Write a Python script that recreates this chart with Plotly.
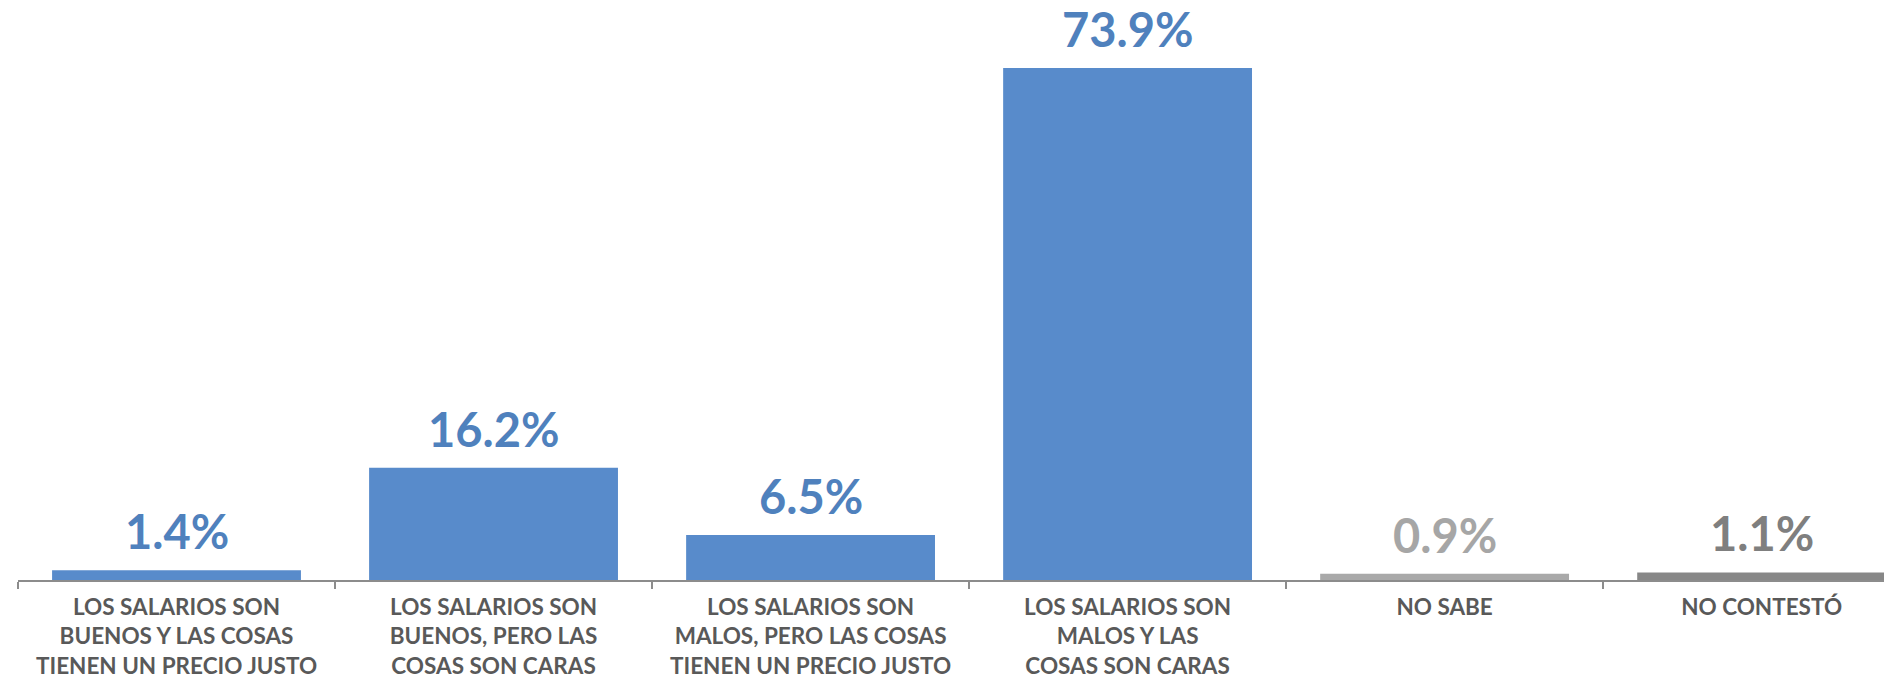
import plotly.graph_objects as go

categories = [
    "LOS SALARIOS SON<br>BUENOS Y LAS COSAS<br>TIENEN UN PRECIO JUSTO",
    "LOS SALARIOS SON<br>BUENOS, PERO LAS<br>COSAS SON CARAS",
    "LOS SALARIOS SON<br>MALOS, PERO LAS COSAS<br>TIENEN UN PRECIO JUSTO",
    "LOS SALARIOS SON<br>MALOS Y LAS<br>COSAS SON CARAS",
    "NO SABE",
    "NO CONTESTÓ",
]
values = [1.4, 16.2, 6.5, 73.9, 0.9, 1.1]
value_labels = ["1.4%", "16.2%", "6.5%", "73.9%", "0.9%", "1.1%"]
bar_colors = ["#588BCB", "#588BCB", "#588BCB", "#588BCB", "#A9A9A9", "#878787"]
label_colors = ["#4F81BD", "#4F81BD", "#4F81BD", "#4F81BD", "#A6A6A6", "#7F7F7F"]

fig = go.Figure()
fig.add_trace(go.Bar(
    x=list(range(len(categories))),
    y=values,
    marker=dict(color=bar_colors, line=dict(width=0)),
    width=0.785,
    hoverinfo="skip",
))

for i, (v, t, c) in enumerate(zip(values, value_labels, label_colors)):
    fig.add_annotation(
        x=i, y=v, text=f"<b>{t}</b>", showarrow=False,
        yanchor="bottom", yshift=10, borderpad=0,
        font=dict(family="Lato", size=47, color=c),
    )

fig.update_layout(
    width=1884, height=681,
    margin=dict(l=18, r=0, t=0, b=101),
    paper_bgcolor="white", plot_bgcolor="white",
    showlegend=False,
)
fig.update_xaxes(
    tickmode="array",
    tickvals=list(range(len(categories))),
    ticktext=[f"<b>{c}</b>" for c in categories],
    range=[-0.5, 5.386],
    showline=True, linecolor="#8C8C8C", linewidth=2,
    ticks="", showgrid=False, zeroline=False,
    ticklabelstandoff=6,
    tickfont=dict(family="Lato", size=22.5, color="#595959"),
    automargin=False,
    minor=dict(tickmode="array", tickvals=[-0.5, 0.5, 1.5, 2.5, 3.5, 4.5],
               ticks="outside", ticklen=7, tickwidth=2, tickcolor="#8C8C8C"),
)
fig.update_yaxes(range=[0, 83.7], visible=False, showgrid=False, zeroline=False)

fig.write_html("out.html", config={"displayModeBar": False},
               post_script="document.body.style.margin='0';")
